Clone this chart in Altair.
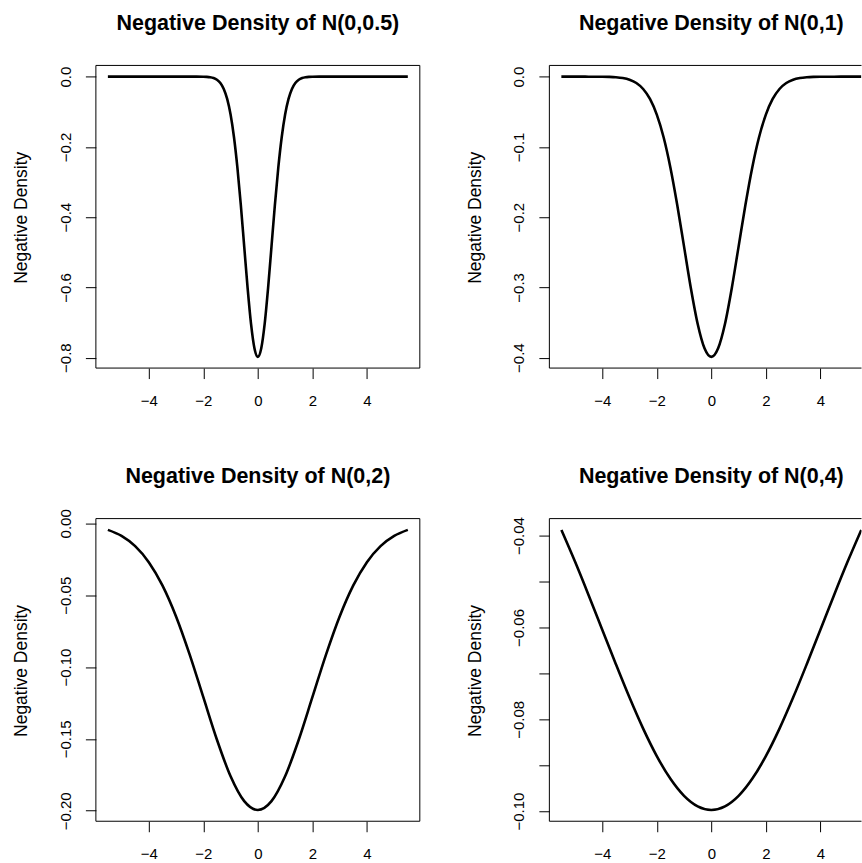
import altair as alt
import pandas as pd

# ---------------- data ----------------
titles = [
    "Negative Density of N(0,0.5)",
    "Negative Density of N(0,1)",
    "Negative Density of N(0,2)",
    "Negative Density of N(0,4)",
]
y_title = "Negative Density"
x_ticks = [-4, -2, 0, 2, 4]

x_p1 = [-5.5, -5.0, -4.5, -4.0, -3.5, -3.0, -2.5, -2.25, -2.0, -1.875, -1.75, -1.625,
        -1.5, -1.375, -1.25, -1.125, -1.0, -0.875, -0.75, -0.625, -0.5, -0.375, -0.25,
        -0.125, 0.0, 0.125, 0.25, 0.375, 0.5, 0.625, 0.75, 0.875, 1.0, 1.125, 1.25,
        1.375, 1.5, 1.625, 1.75, 1.875, 2.0, 2.25, 2.5, 3.0, 3.5, 4.0, 4.5, 5.0, 5.5]
y_p1 = [0.0, 0.0, 0.0, 0.0, 0.0, 0.0, 0.0, -0.00003, -0.00027, -0.00071, -0.00175, -0.00406,
        -0.00886, -0.01819, -0.03506, -0.06348, -0.10798, -0.17255, -0.25904, -0.36530,
        -0.48394, -0.60227, -0.70413, -0.77334, -0.79788, -0.77334, -0.70413, -0.60227,
        -0.48394, -0.36530, -0.25904, -0.17255, -0.10798, -0.06348, -0.03506, -0.01819,
        -0.00886, -0.00406, -0.00175, -0.00071, -0.00027, -0.00003, 0.0, 0.0, 0.0, 0.0,
        0.0, 0.0, 0.0]

x_p2 = [-5.5, -5.25, -5.0, -4.75, -4.5, -4.25, -4.0, -3.75, -3.5, -3.25, -3.0, -2.75,
        -2.5, -2.25, -2.0, -1.75, -1.5, -1.25, -1.0, -0.75, -0.5, -0.25, 0.0, 0.25, 0.5,
        0.75, 1.0, 1.25, 1.5, 1.75, 2.0, 2.25, 2.5, 2.75, 3.0, 3.25, 3.5, 3.75, 4.0, 4.25,
        4.5, 4.75, 5.0, 5.25, 5.5]
y_p2 = [0.0, 0.0, 0.0, -0.00001, -0.00002, -0.00005, -0.00013, -0.00035, -0.00087,
        -0.00203, -0.00443, -0.00909, -0.01753, -0.03174, -0.05399, -0.08628, -0.12952,
        -0.18265, -0.24197, -0.30114, -0.35207, -0.38667, -0.39894, -0.38667, -0.35207,
        -0.30114, -0.24197, -0.18265, -0.12952, -0.08628, -0.05399, -0.03174, -0.01753,
        -0.00909, -0.00443, -0.00203, -0.00087, -0.00035, -0.00013, -0.00005, -0.00002,
        -0.00001, 0.0, 0.0, 0.0]

x_p34 = [-5.5, -5.0, -4.5, -4.0, -3.5, -3.0, -2.5, -2.0, -1.5, -1.0, -0.5, 0.0, 0.5,
         1.0, 1.5, 2.0, 2.5, 3.0, 3.5, 4.0, 4.5, 5.0, 5.5]
y_p3 = [-0.00455, -0.00876, -0.01587, -0.02700, -0.04314, -0.06476, -0.09132, -0.12099,
        -0.15057, -0.17603, -0.19333, -0.19947, -0.19333, -0.17603, -0.15057, -0.12099,
        -0.09132, -0.06476, -0.04314, -0.02700, -0.01587, -0.00876, -0.00455]
y_p4 = [-0.03876, -0.04566, -0.05297, -0.06049, -0.06801, -0.07528, -0.08204, -0.08802,
        -0.09296, -0.09667, -0.09896, -0.09974, -0.09896, -0.09667, -0.09296, -0.08802,
        -0.08204, -0.07528, -0.06801, -0.06049, -0.05297, -0.04566, -0.03876]

y_ticks_p1 = [0.0, -0.2, -0.4, -0.6, -0.8]
y_ticks_p2 = [0.0, -0.1, -0.2, -0.3, -0.4]
y_ticks_p3 = [0.0, -0.05, -0.10, -0.15, -0.20]
y_ticks_p4 = [-0.04, -0.05, -0.06, -0.07, -0.08, -0.09, -0.10]

# ---------------- layout / style ----------------
FONT = "Liberation Sans"
W_L = 324.3
W_R = 312.5
H = 303
X_DOM_L = [-5.94, 5.94]
X_DOM_R = [-5.94, 5.508]
Y_DOM = [[-0.8298, 0.0319], [-0.4149, 0.0160], [-0.2073, 0.0033], [-0.1022, -0.0363]]
X0_PX = W_L / 2  # pixel position of x = 0 inside every panel


def panel(x, y, title, xdom, width, ydom, yticks, yfmt, labelexpr=None,
          full_box=True, anchor=False):
    df = pd.DataFrame({"x": x, "y": y})
    yax = dict(values=yticks, format=yfmt, domain=False, grid=False,
               tickSize=10.5, tickColor="black", tickWidth=1,
               labelAngle=270, labelAlign="center", labelBaseline="bottom",
               labelPadding=12, labelFontSize=15, labelFont=FONT, labelColor="black",
               labelOverlap=False, labelFlush=False,
               title=y_title, titleFont=FONT, titleFontSize=17.5,
               titleFontWeight="normal", titleColor="black", titleAngle=270,
               titleAlign="center", titleBaseline="alphabetic",
               titleX=-69, titleY=152)
    if labelexpr:
        yax["labelExpr"] = labelexpr
    xax = alt.Axis(values=x_ticks, format="d", domain=False, grid=False,
                   tickSize=10.5, tickColor="black", tickWidth=1,
                   labelPadding=15, labelFontSize=15, labelFont=FONT,
                   labelColor="black", labelOverlap=False, labelFlush=False,
                   title=None)
    line = alt.Chart(df).mark_line(
        color="black", strokeWidth=2.6, interpolate="monotone", clip=True
    ).encode(
        x=alt.X("x:Q", scale=alt.Scale(domain=xdom, nice=False, zero=False), axis=xax),
        y=alt.Y("y:Q", scale=alt.Scale(domain=ydom, nice=False, zero=False),
                axis=alt.Axis(**yax)),
    )
    base = alt.Chart(pd.DataFrame({"k": [0]}))
    layers = [
        line,
        base.mark_rule(color="black", strokeWidth=1).encode(
            x=alt.value(0), x2=alt.value(width), y=alt.value(0)),
        base.mark_rule(color="black", strokeWidth=1).encode(
            x=alt.value(0), x2=alt.value(width), y=alt.value(H)),
        base.mark_rule(color="black", strokeWidth=1).encode(
            x=alt.value(0), y=alt.value(0), y2=alt.value(H)),
        base.mark_text(font=FONT, fontSize=21.5, fontWeight="bold", color="black",
                       align="center", baseline="alphabetic").encode(
            x=alt.value(X0_PX), y=alt.value(-35.7), text=alt.value(title)),
    ]
    if full_box:
        layers.append(base.mark_rule(color="black", strokeWidth=1).encode(
            x=alt.value(width), y=alt.value(0), y2=alt.value(H)))
    if anchor:
        layers.append(base.mark_rule(color="white", strokeWidth=1).encode(
            x=alt.value(-95.2), y=alt.value(-64.5), y2=alt.value(-63.5)))
    return alt.layer(*layers).properties(width=width, height=H)


p1 = panel(x_p1, y_p1, titles[0], X_DOM_L, W_L, Y_DOM[0], y_ticks_p1, ".1f", anchor=True)
p2 = panel(x_p2, y_p2, titles[1], X_DOM_R, W_R, Y_DOM[1], y_ticks_p2, ".1f",
           full_box=False)
p3 = panel(x_p34, y_p3, titles[2], X_DOM_L, W_L, Y_DOM[2], y_ticks_p3, ".2f")
p4 = panel(x_p34, y_p4, titles[3], X_DOM_R, W_R, Y_DOM[3], y_ticks_p4, ".2f",
           labelexpr="round(datum.value*100) % 2 == 0 ? datum.label : ''",
           full_box=False)

chart = alt.concat(
    p1, p2, p3, p4, columns=2,
    spacing={"row": 150.7, "column": 129},
    bounds="flush",
).properties(padding=0).configure_view(stroke=None)

chart.save("out.html", embed_options={"renderer": "svg", "actions": False})
